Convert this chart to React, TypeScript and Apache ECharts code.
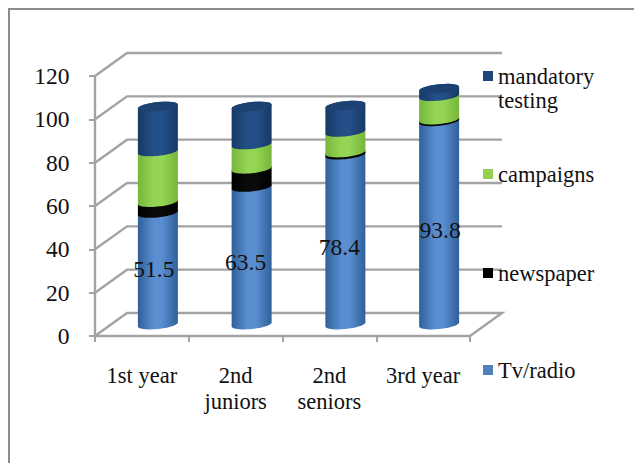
import React, { useEffect, useRef } from "react";
import * as echarts from "echarts";

const categories = ["1st year", "2nd\njuniors", "2nd\nseniors", "3rd year"];
const tvRadio = [51.5, 63.5, 78.4, 93.8];
const newspaper = [5.0, 8.4, 1.0, 0.8];
const campaigns = [23.4, 11.2, 9.5, 10.8];
const mandatoryTesting = [20.7, 17.5, 12.1, 3.4];
const axisTicks = [0, 20, 40, 60, 80, 100, 120];

const FONT = "Liberation Serif";
const TEXT_SIZE = 22.5;
const NUMBER_SIZE = 23.5;
const AXIS_GREY = "#a3a3a3";

// Oblique projection of the 3D box: how far the back wall sits from the front plane.
const DEPTH_X = 32;
const DEPTH_Y = 23;
const BAR_RADIUS = 20;
const ELLIPSE_RY = 4.5;
const ELLIPSE_TILT = 2;

// Hand-placed data labels, offset from the middle of the Tv/radio segment.
const labelNudge = [
  [-4, 0],
  [-6, 6],
  [-6, 7],
  [1, 7],
];

type Segment = {
  name: string;
  values: number[];
  swatch: string;
  shade: string[];
  legendTop: number;
};

const segments: Segment[] = [
  { name: "Tv/radio", values: tvRadio, swatch: "#4f81bd", shade: ["#30609a", "#5a8ed0", "#5a8ed0", "#30609a"], legendTop: 358 },
  { name: "newspaper", values: newspaper, swatch: "#000000", shade: ["#000000", "#0a0a0a", "#0a0a0a", "#000000"], legendTop: 261 },
  { name: "campaigns", values: campaigns, swatch: "#92d050", shade: ["#78b53c", "#94d653", "#94d653", "#78b53c"], legendTop: 162 },
  { name: "mandatory testing", values: mandatoryTesting, swatch: "#1f497d", shade: ["#173a66", "#234f88", "#234f88", "#173a66"], legendTop: 40 },
];

const cumulative = (upto: number, i: number) =>
  segments.slice(0, upto).reduce((sum, s) => sum + s.values[i], 0);

// One half of a tilted ellipse, sampled from angle a to angle b.
function arc(cx: number, cy: number, a: number, b: number): number[][] {
  const pts: number[][] = [];
  const steps = 24;
  for (let k = 0; k <= steps; k++) {
    const t = a + ((b - a) * k) / steps;
    pts.push([
      cx + BAR_RADIUS * Math.cos(t),
      cy - ELLIPSE_TILT * Math.cos(t) + ELLIPSE_RY * Math.sin(t),
    ]);
  }
  return pts;
}

function cylinderSeries(seg: Segment, idx: number) {
  const isTop = idx === segments.length - 1;
  const fill = new echarts.graphic.LinearGradient(
    0, 0, 1, 0,
    seg.shade.map((color, k) => ({ offset: [0, 0.4, 0.6, 1][k], color }))
  );
  return {
    type: "custom",
    name: seg.name,
    z: 3 + idx,
    silent: true,
    itemStyle: { color: seg.swatch },
    encode: { x: 0, y: 2 },
    data: seg.values.map((v, i) => {
      const base = cumulative(idx, i);
      return [i, base, base + v, v];
    }),
    renderItem: (params: any, api: any) => {
      const i = api.value(0);
      const cx = api.coord([i, 0])[0] + DEPTH_X / 2;
      const y0 = api.coord([i, api.value(1)])[1] - DEPTH_Y / 2;
      const y1 = api.coord([i, api.value(2)])[1] - DEPTH_Y / 2;
      const children: any[] = [
        {
          type: "polygon",
          shape: {
            points: [...arc(cx, y0, Math.PI, 0), ...arc(cx, y1, 0, -Math.PI)],
          },
          style: { fill },
        },
      ];
      if (isTop) {
        children.push({
          type: "polygon",
          shape: { points: arc(cx, y1, 0, Math.PI * 2) },
          style: { fill: "#1c4272" },
        });
      }
      if (idx === 0) {
        const [dx, dy] = labelNudge[i];
        children.push({
          type: "text",
          z2: 50,
          style: {
            text: String(api.value(3)),
            x: cx + dx,
            y: (y0 + y1) / 2 + dy,
            align: "center",
            verticalAlign: "middle",
            fill: "#111",
            font: `${NUMBER_SIZE}px "${FONT}"`,
          },
        });
      }
      return { type: "group", children };
    },
  };
}

// Gridlines running along the side wall and the back wall for every axis tick.
const wallSeries = {
  type: "custom",
  silent: true,
  z: 1,
  encode: { x: 0, y: 1 },
  data: axisTicks.map((t) => [0, t]),
  renderItem: (params: any, api: any) => {
    const left = params.coordSys.x;
    const right = left + params.coordSys.width;
    const y = api.coord([0, api.value(1)])[1];
    const points = [
      [left, y],
      [left + DEPTH_X, y - DEPTH_Y],
      [right + DEPTH_X, y - DEPTH_Y],
    ];
    if (api.value(1) === 0) points.push([right, y]);
    return {
      type: "polyline",
      shape: { points },
      style: { stroke: AXIS_GREY, lineWidth: 2.4, fill: "none" },
    };
  },
};

export default function App() {
  const ref = useRef<HTMLDivElement>(null);

  useEffect(() => {
    const chart = echarts.init(ref.current!, undefined, { renderer: "svg" });
    chart.setOption({
      animation: false,
      backgroundColor: "#ffffff",
      textStyle: { fontFamily: FONT },
      grid: { left: 95, right: 164, top: 76, bottom: 127, containLabel: false },
      xAxis: {
        type: "category",
        data: categories,
        boundaryGap: true,
        axisLine: { show: true, lineStyle: { color: AXIS_GREY, width: 2.4 } },
        axisTick: { show: true, length: 6, lineStyle: { color: AXIS_GREY, width: 2 } },
        axisLabel: {
          interval: 0,
          margin: 26,
          color: "#111",
          fontFamily: FONT,
          fontSize: TEXT_SIZE,
          lineHeight: 26,
        },
      },
      yAxis: {
        type: "value",
        min: 0,
        max: 120,
        interval: 20,
        splitLine: { show: false },
        axisLine: { show: true, lineStyle: { color: AXIS_GREY, width: 2.4 } },
        axisTick: { show: true, length: 6, lineStyle: { color: AXIS_GREY, width: 2 } },
        axisLabel: { margin: 25.5, color: "#111", fontFamily: FONT, fontSize: NUMBER_SIZE },
      },
      legend: segments.map((seg) => ({
        data: [seg.name],
        left: 483,
        top: seg.legendTop,
        padding: 0,
        itemWidth: 10,
        itemHeight: 10,
        itemGap: 0,
        icon: "rect",
        selectedMode: false,
        // A two-line name gets a blank first line, so the swatch centres on the first word.
        formatter: (name: string) => (name.includes(" ") ? "\n" + name.replace(" ", "\n") : name),
        textStyle: {
          color: "#111",
          fontFamily: FONT,
          fontSize: TEXT_SIZE,
          lineHeight: 24,
        },
      })),
      graphic: [
        {
          type: "rect",
          silent: true,
          shape: { x: 9, y: 9, width: 800, height: 600 },
          style: { fill: "none", stroke: "#8c8c8c", lineWidth: 2 },
        },
      ],
      series: [wallSeries, ...segments.map(cylinderSeries)],
    });
    return () => chart.dispose();
  }, []);

  return (
    <div
      ref={ref}
      style={{ position: "absolute", left: 0, top: 0, width: 634, height: 463 }}
    />
  );
}
